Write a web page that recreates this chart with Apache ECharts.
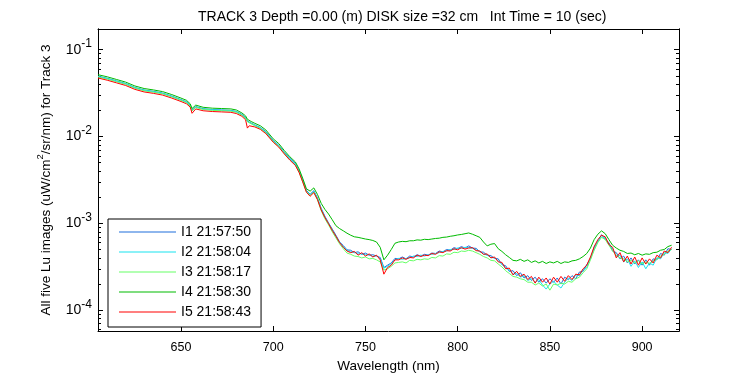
<!DOCTYPE html>
<html><head><meta charset="utf-8">
<script src="https://cdn.jsdelivr.net/npm/echarts@6/dist/echarts.min.js"></script>
<style>html,body{margin:0;padding:0;background:#fff}#c{width:750px;height:375px}</style>
</head><body><div id="c"></div>
<script>
const wavelength = [605,610,615,620,625,630,635,640,645,650,653,655,656,658,662,667,672,677,680,683,685,686,687,688,690,693,696,700,703,706,709,712,714,716,
718,720,722,724,726,728,730,732,734,736,738,740,742,744,746,748,750,752,754,756,758,760,762,764,766,768,770,772,774,776,778,780,782,784,786,788,790,792,794,796,
798,800,802,804,806,808,810,812,814,816,818,820,822,824,826,828,830,832,834,836,838,840,842,844,846,848,850,852,854,856,858,860,862,864,866,868,870,872,874,876,
878,880,882,884,886,888,890,892,894,896,898,900,902,904,906,908,910,912,914,916];

const I1 = [4.95e-2,4.68e-2,4.37e-2,4.07e-2,3.67e-2,3.43e-2,3.31e-2,3.16e-2,2.92e-2,2.66e-2,2.51e-2,2.29e-2,2.00e-2,2.21e-2,2.09e-2,2.04e-2,2.02e-2,2.00e-2,1.94e-2,1.80e-2,1.66e-2,1.51e-2,1.45e-2,1.43e-2,1.36e-2,1.27e-2,1.14e-2,9.0e-3,7.94e-3,6.61e-3,5.62e-3,4.90e-3,4.07e-3,3.16e-3,
24.0e-4,21.6e-4,23.8e-4,19.6e-4,14.9e-4,12.1e-4,10.1e-4,8.6e-4,7.3e-4,6.1e-4,
5.55e-4,4.95e-4,4.9e-4,4.6e-4,4.7e-4,4.4e-4,4.55e-4,4.3e-4,4.35e-4,4.2e-4,
4.05e-4,3.1e-4,3.3e-4,3.5e-4,3.95e-4,3.9e-4,4.1e-4,3.9e-4,4.2e-4,4.1e-4,
4.35e-4,4.2e-4,4.4e-4,4.3e-4,4.55e-4,4.5e-4,4.8e-4,4.7e-4,5.0e-4,4.9e-4,
5.25e-4,5.1e-4,5.4e-4,5.2e-4,5.5e-4,5.2e-4,5.15e-4,4.7e-4,4.65e-4,4.3e-4,
4.25e-4,3.95e-4,3.9e-4,3.35e-4,3.25e-4,2.8e-4,2.85e-4,2.5e-4,2.7e-4,2.35e-4,
2.5e-4,2.2e-4,2.4e-4,2.1e-4,2.3e-4,2.05e-4,2.3e-4,2.1e-4,2.35e-4,2.0e-4,
2.4e-4,2.25e-4,2.5e-4,2.3e-4,2.75e-4,2.8e-4,3.35e-4,3.9e-4,5.3e-4,6.2e-4,
7.4e-4,6.6e-4,6.0e-4,4.8e-4,4.6e-4,3.9e-4,4.2e-4,3.5e-4,4.0e-4,3.4e-4,
3.8e-4,3.3e-4,3.8e-4,3.3e-4,3.9e-4,3.8e-4,4.5e-4,4.3e-4,5.1e-4,5.0e-4];

const I2 = [4.92e-2,4.66e-2,4.34e-2,4.05e-2,3.65e-2,3.41e-2,3.29e-2,3.14e-2,2.90e-2,2.64e-2,2.49e-2,2.27e-2,1.99e-2,2.19e-2,2.07e-2,2.03e-2,2.01e-2,1.99e-2,1.93e-2,1.78e-2,1.64e-2,1.49e-2,1.44e-2,1.42e-2,1.35e-2,1.26e-2,1.12e-2,8.9e-3,7.85e-3,6.52e-3,5.55e-3,4.82e-3,4.0e-3,3.10e-3,
23.5e-4,21.4e-4,23.4e-4,19.2e-4,14.6e-4,11.8e-4,10.0e-4,8.4e-4,7.1e-4,6.05e-4,
5.4e-4,4.9e-4,4.7e-4,4.65e-4,4.45e-4,4.45e-4,4.35e-4,4.35e-4,4.15e-4,4.25e-4,
3.9e-4,3.05e-4,3.2e-4,3.45e-4,3.8e-4,3.95e-4,3.85e-4,3.95e-4,4.0e-4,4.2e-4,
4.15e-4,4.3e-4,4.2e-4,4.35e-4,4.4e-4,4.5e-4,4.6e-4,4.75e-4,4.8e-4,5.0e-4,
5.0e-4,5.2e-4,5.15e-4,5.3e-4,5.25e-4,5.15e-4,4.95e-4,4.75e-4,4.45e-4,4.3e-4,
4.05e-4,4.0e-4,3.7e-4,3.4e-4,3.05e-4,2.9e-4,2.6e-4,2.65e-4,2.4e-4,2.5e-4,
2.2e-4,2.3e-4,2.1e-4,2.25e-4,1.95e-4,1.75e-4,2.0e-4,2.15e-4,1.95e-4,1.8e-4,
2.1e-4,2.35e-4,2.2e-4,2.55e-4,2.5e-4,2.9e-4,3.1e-4,4.0e-4,5.0e-4,6.3e-4,
7.0e-4,6.8e-4,5.7e-4,5.1e-4,4.2e-4,4.3e-4,3.6e-4,3.9e-4,3.2e-4,3.7e-4,
3.1e-4,3.6e-4,3.0e-4,3.5e-4,3.3e-4,4.0e-4,3.9e-4,4.6e-4,4.5e-4,5.1e-4];

const I3 = [4.85e-2,4.58e-2,4.28e-2,3.99e-2,3.60e-2,3.36e-2,3.24e-2,3.10e-2,2.86e-2,2.61e-2,2.46e-2,2.24e-2,1.97e-2,2.16e-2,2.05e-2,2.00e-2,1.98e-2,1.96e-2,1.90e-2,1.76e-2,1.62e-2,1.48e-2,1.42e-2,1.40e-2,1.33e-2,1.24e-2,1.10e-2,8.7e-3,7.7e-3,6.4e-3,5.4e-3,4.7e-3,3.9e-3,3.0e-3,
23.0e-4,21.0e-4,22.8e-4,18.6e-4,14.0e-4,11.3e-4,9.6e-4,8.0e-4,6.8e-4,5.8e-4,
5.1e-4,4.55e-4,4.4e-4,4.2e-4,4.15e-4,4.0e-4,4.1e-4,3.9e-4,3.95e-4,3.8e-4,
3.6e-4,2.9e-4,3.0e-4,3.2e-4,3.5e-4,3.55e-4,3.6e-4,3.5e-4,3.75e-4,3.7e-4,
3.85e-4,3.8e-4,3.9e-4,3.85e-4,4.05e-4,4.0e-4,4.25e-4,4.2e-4,4.45e-4,4.4e-4,
4.65e-4,4.6e-4,4.8e-4,4.75e-4,4.9e-4,4.8e-4,4.6e-4,4.4e-4,4.15e-4,4.0e-4,
3.75e-4,3.7e-4,3.4e-4,3.15e-4,2.85e-4,2.65e-4,2.45e-4,2.4e-4,2.3e-4,2.25e-4,
2.1e-4,2.1e-4,1.95e-4,2.05e-4,1.9e-4,2.0e-4,1.7e-4,2.0e-4,1.95e-4,2.05e-4,
2.0e-4,2.15e-4,2.1e-4,2.3e-4,2.4e-4,2.7e-4,3.0e-4,3.8e-4,4.9e-4,6.0e-4,
6.9e-4,6.5e-4,5.6e-4,4.8e-4,4.3e-4,4.0e-4,3.9e-4,3.6e-4,3.75e-4,3.5e-4,
3.7e-4,3.4e-4,3.6e-4,3.45e-4,3.7e-4,3.85e-4,4.2e-4,4.4e-4,4.8e-4,5.0e-4];

const I4 = [5.15e-2,4.87e-2,4.54e-2,4.23e-2,3.82e-2,3.57e-2,3.44e-2,3.29e-2,3.04e-2,2.77e-2,2.61e-2,2.38e-2,2.10e-2,2.30e-2,2.17e-2,2.12e-2,2.10e-2,2.08e-2,2.02e-2,1.87e-2,1.73e-2,1.58e-2,1.52e-2,1.49e-2,1.42e-2,1.33e-2,1.19e-2,9.4e-3,8.3e-3,6.9e-3,5.85e-3,5.1e-3,4.25e-3,3.3e-3,
25.0e-4,23.5e-4,25.6e-4,21.5e-4,17.0e-4,14.5e-4,12.8e-4,11.0e-4,9.4e-4,8.7e-4,
8.2e-4,7.7e-4,7.3e-4,7.0e-4,6.9e-4,6.75e-4,6.6e-4,6.5e-4,6.35e-4,6.1e-4,
5.3e-4,3.8e-4,4.3e-4,5.0e-4,5.9e-4,6.1e-4,6.2e-4,6.15e-4,6.3e-4,6.3e-4,
6.45e-4,6.4e-4,6.55e-4,6.5e-4,6.6e-4,6.7e-4,6.75e-4,6.9e-4,6.95e-4,7.1e-4,
7.2e-4,7.35e-4,7.45e-4,7.6e-4,7.75e-4,7.5e-4,7.2e-4,6.9e-4,6.1e-4,5.5e-4,
5.75e-4,5.85e-4,5.1e-4,4.75e-4,4.35e-4,4.05e-4,3.75e-4,3.7e-4,3.85e-4,3.65e-4,
3.8e-4,3.55e-4,3.7e-4,3.5e-4,3.65e-4,3.45e-4,3.6e-4,3.5e-4,3.65e-4,3.45e-4,
3.6e-4,3.55e-4,3.7e-4,3.75e-4,3.9e-4,4.15e-4,4.5e-4,5.2e-4,6.5e-4,7.5e-4,
8.2e-4,7.6e-4,6.5e-4,5.6e-4,5.2e-4,4.9e-4,4.75e-4,4.5e-4,4.55e-4,4.35e-4,
4.5e-4,4.3e-4,4.45e-4,4.4e-4,4.6e-4,4.65e-4,4.9e-4,5.0e-4,5.4e-4,5.6e-4];

const I5 = [4.72e-2,4.45e-2,4.15e-2,3.87e-2,3.49e-2,3.26e-2,3.14e-2,3.00e-2,2.77e-2,2.53e-2,2.38e-2,2.18e-2,1.85e-2,2.08e-2,1.98e-2,1.94e-2,1.92e-2,1.90e-2,1.84e-2,1.71e-2,1.56e-2,1.25e-2,1.33e-2,1.36e-2,1.29e-2,1.21e-2,1.08e-2,8.6e-3,7.55e-3,6.3e-3,5.35e-3,4.65e-3,3.87e-3,3.0e-3,
22.8e-4,20.5e-4,22.6e-4,18.8e-4,14.3e-4,11.7e-4,9.9e-4,8.3e-4,7.1e-4,6.0e-4,
5.3e-4,4.8e-4,4.6e-4,4.75e-4,4.3e-4,4.6e-4,4.2e-4,4.45e-4,4.1e-4,4.3e-4,
3.8e-4,2.6e-4,3.1e-4,3.3e-4,3.8e-4,3.8e-4,4.0e-4,3.85e-4,4.05e-4,4.0e-4,
4.3e-4,4.15e-4,4.3e-4,4.25e-4,4.5e-4,4.4e-4,4.7e-4,4.6e-4,4.85e-4,4.8e-4,
5.1e-4,4.95e-4,5.25e-4,5.05e-4,5.2e-4,5.25e-4,4.85e-4,4.8e-4,4.4e-4,4.45e-4,
4.0e-4,4.1e-4,3.6e-4,3.55e-4,3.0e-4,3.05e-4,2.55e-4,2.8e-4,2.45e-4,2.6e-4,
2.25e-4,2.45e-4,2.05e-4,2.4e-4,2.1e-4,2.35e-4,2.0e-4,2.4e-4,2.1e-4,2.45e-4,
2.15e-4,2.5e-4,2.25e-4,2.6e-4,2.55e-4,3.0e-4,3.3e-4,4.1e-4,5.4e-4,6.5e-4,
7.3e-4,7.0e-4,5.7e-4,5.3e-4,4.0e-4,4.6e-4,3.6e-4,4.2e-4,3.4e-4,4.1e-4,
3.3e-4,4.0e-4,3.4e-4,3.9e-4,3.5e-4,4.3e-4,4.0e-4,4.8e-4,4.6e-4,5.3e-4];

const seriesNames = ['I1 21:57:50','I2 21:58:04','I3 21:58:17','I4 21:58:30','I5 21:58:43'];
const seriesColors = ['#1f6fdc','#19e3f0','#66ff66','#00bb00','#ff0000'];
const xTicks = [650,700,750,800,850,900];
const yTicks = [1e-4,1e-3,1e-2,1e-1];
const yTickExp = ['-4','-3','-2','-1'];
const yMinorTicks = [6e-5,7e-5,8e-5,9e-5,2e-4,3e-4,4e-4,5e-4,6e-4,7e-4,8e-4,9e-4,2e-3,3e-3,4e-3,5e-3,6e-3,7e-3,8e-3,9e-3,2e-2,3e-2,4e-2,5e-2,6e-2,7e-2,8e-2,9e-2];
const X_MIN = 605, X_MAX = 920, Y_MIN = 5.76e-5, Y_MAX = 0.173;

const FONT = 'Liberation Sans, Arial, Helvetica, sans-serif';
const allSeries = [I1, I2, I3, I4, I5];

function yAxisDef(pos, ticks, len, withLabels) {
  return {
    type: 'log', logBase: 10, min: Y_MIN, max: Y_MAX, position: pos,
    axisLine: { show: true, lineStyle: { color: '#000', width: 1 } },
    axisTick: { show: true, inside: true, length: len, customValues: ticks, lineStyle: { color: '#000', width: 1 } },
    axisLabel: withLabels ? {
      show: true, customValues: yTicks, margin: 6, color: '#000', fontFamily: FONT,
      formatter: function (v) {
        const i = yTicks.findIndex(t => Math.abs(t - v) / t < 1e-6);
        return '{b|10}{e|' + (i >= 0 ? yTickExp[i] : '') + '}';
      },
      rich: {
        b: { fontSize: 14, lineHeight: 24, fontFamily: FONT, color: '#000' },
        e: { fontSize: 12, verticalAlign: 'top', fontFamily: FONT, color: '#000' }
      }
    } : { show: false },
    splitLine: { show: false }, minorTick: { show: false }, minorSplitLine: { show: false }
  };
}

const chart = echarts.init(document.getElementById('c'), null, { renderer: 'canvas' });
const yMain = yAxisDef('left', yTicks, 5, true);
yMain.name = '{a|All five Lu images (uW/cm}{s|2}{a|/sr/nm) for Track 3}';
yMain.nameLocation = 'middle';
yMain.nameGap = 41;
yMain.nameRotate = 90;
yMain.nameTextStyle = {
  color: '#000', fontFamily: FONT,
  rich: {
    a: { fontSize: 13.5, lineHeight: 22, fontFamily: FONT, color: '#000' },
    s: { fontSize: 9.5, verticalAlign: 'top', fontFamily: FONT, color: '#000' }
  }
};
const yMinorL = yAxisDef('left', yMinorTicks, 3, false);
const yMajorR = yAxisDef('right', yTicks, 5, false);
const yMinorR = yAxisDef('right', yMinorTicks, 3, false);

chart.setOption({
  animation: false,
  backgroundColor: '#fff',
  title: {
    text: 'TRACK 3 Depth =0.00 (m) DISK size =32 cm   Int Time = 10 (sec)',
    left: 193, top: 5,
    textStyle: { fontSize: 14, fontWeight: 'normal', color: '#000', fontFamily: FONT }
  },
  grid: { left: 98, right: 71, top: 29, bottom: 44, containLabel: false, outerBoundsMode: 'none' },
  legend: {
    data: seriesNames, orient: 'vertical', left: 108, top: 219,
    backgroundColor: '#fff', borderColor: '#000', borderWidth: 1, borderRadius: 0,
    padding: [6, 10, 8, 11], itemWidth: 57, itemHeight: 13, itemGap: 6,
    icon: 'path://M0,0L57,0L57,1L0,1Z',
    itemStyle: { borderWidth: 0 },
    lineStyle: { width: 0 },
    textStyle: { fontSize: 14, lineHeight: 13, color: '#000', fontFamily: FONT },
    selectedMode: false
  },
  xAxis: [{
    type: 'value', min: X_MIN, max: X_MAX, position: 'bottom',
    axisLine: { show: true, onZero: false, lineStyle: { color: '#000', width: 1 } },
    axisTick: { show: true, inside: true, length: 5, customValues: xTicks, lineStyle: { color: '#000' } },
    axisLabel: { customValues: xTicks, margin: 10, fontSize: 12.5, color: '#000', fontFamily: FONT },
    splitLine: { show: false },
    name: 'Wavelength (nm)', nameLocation: 'middle', nameGap: 28,
    nameTextStyle: { fontSize: 13.5, color: '#000', fontFamily: FONT }
  }, {
    type: 'value', min: X_MIN, max: X_MAX, position: 'top',
    axisLine: { show: true, onZero: false, lineStyle: { color: '#000', width: 1 } },
    axisTick: { show: true, inside: true, length: 5, customValues: xTicks, lineStyle: { color: '#000' } },
    axisLabel: { show: false }, splitLine: { show: false }
  }],
  yAxis: [yMain, yMinorL, yMajorR, yMinorR],
  series: allSeries.map((arr, k) => ({
    name: seriesNames[k], type: 'line', xAxisIndex: 0, yAxisIndex: 0,
    data: wavelength.map((w, i) => [w, arr[i]]),
    symbol: 'none', showSymbol: false,
    lineStyle: { color: seriesColors[k], width: 1 },
    itemStyle: { color: seriesColors[k] },
    emphasis: { disabled: true }, silent: true, clip: true
  }))
});
</script>
</body></html>
